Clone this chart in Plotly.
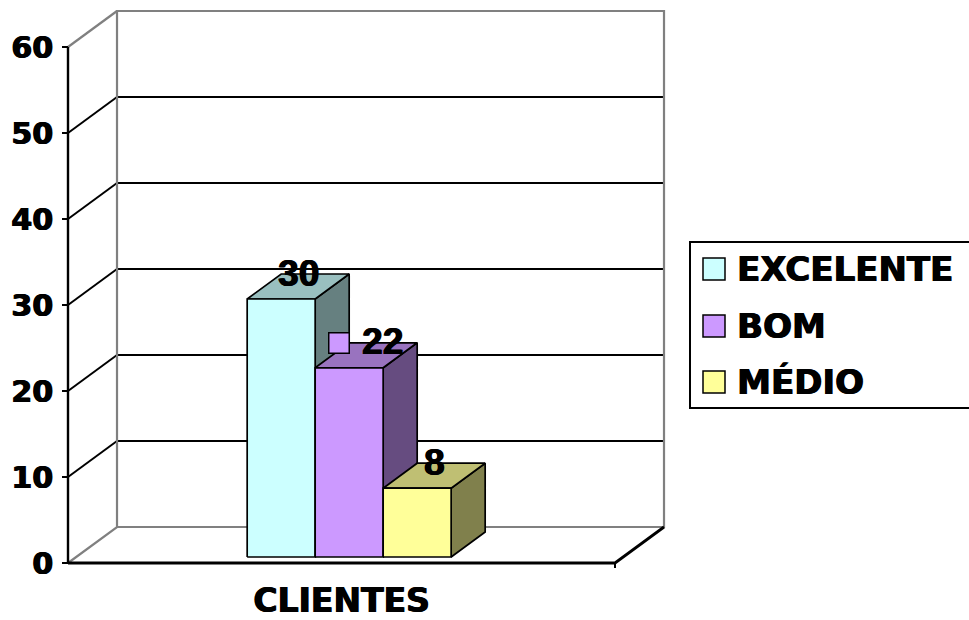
import plotly.graph_objects as go

# ---- data -------------------------------------------------------------
category = "CLIENTES"
series = ["EXCELENTE", "BOM", "MÉDIO"]
values = [30, 22, 8]
y_ticks = [0, 10, 20, 30, 40, 50, 60]

# ---- styling ----------------------------------------------------------
front_colors = ["#CCFFFF", "#CC99FF", "#FFFF99"]
TICK_FONT = "DejaVu Sans"
LABEL_FONT = "Liberation Sans"
HEAVY = "0.8px 0 0 black, -0.4px 0 0 black"   # slightly heavier strokes

# pseudo-3D geometry in data units (x: one category = 1.0, y: value units)
DX, DY = 0.0896, 4.186          # offset of the back wall
D0, D1 = 0.167, 0.861           # front / back depth of the bars
BAR_LEFT0, BAR_W = 0.3126, 0.1243

# plot-area placement in pixels
W, H = 969, 620
PL, PR, PT, PB = 60, 670, 5, 568
X0PX, XPX_PER = 68, 547.0       # x data 0 -> px, px per unit
Y0PX, YPX_PER = 563, 8.6        # y data 0 -> px, px per unit
x_range = [(PL - X0PX) / XPX_PER, (PR - X0PX) / XPX_PER]
y_range = [(Y0PX - PB) / YPX_PER, (Y0PX - PT) / YPX_PER]


def shade(hex_color, k):
    r, g, b = (int(hex_color[i:i + 2], 16) for i in (1, 3, 5))
    return "#%02X%02X%02X" % (round(r * k), round(g * k), round(b * k))


def proj(x, y, d):
    return x + d * DX, y + d * DY


def px_paper(px, py):
    return (px - PL) / (PR - PL), (PB - py) / (PB - PT)


fig = go.Figure()


def add_line(pts, color, width):
    fig.add_trace(go.Scatter(
        x=[p[0] for p in pts], y=[p[1] for p in pts], mode="lines",
        line=dict(color=color, width=width), hoverinfo="skip", showlegend=False))


def add_face(pts, fill):
    xs = [p[0] for p in pts] + [pts[0][0]]
    ys = [p[1] for p in pts] + [pts[0][1]]
    fig.add_trace(go.Scatter(
        x=xs, y=ys, mode="lines", fill="toself", fillcolor=fill,
        line=dict(color="black", width=1.7), hoverinfo="skip", showlegend=False))


GRAY = "#808080"
top_val = y_ticks[-1]

# back wall gridlines and left-wall diagonals
for v in y_ticks[1:-1]:
    add_line([proj(0, v, 1), proj(1, v, 1)], "black", 2)
    add_line([proj(0, v, 0), proj(0, v, 1)], "black", 2)

# wall outlines
add_line([proj(0, 0, 0), proj(0, 0, 1), proj(1, 0, 1), proj(1, top_val, 1),
          proj(0, top_val, 1), proj(0, 0, 1)], GRAY, 2.2)
add_line([proj(0, top_val, 0), proj(0, top_val, 1)], GRAY, 2.2)

# floor front edge, right diagonal and category boundary tick
add_line([proj(1, 0, 1), proj(1, 0, 0), proj(0, 0, 0)], "black", 2.8)
add_line([(1, 0), (1, -0.85)], "black", 2)

# front value axis line
add_line([(0, 0), (0, top_val)], "black", 2.4)

# bars: side, top and front faces
label_pos = []
for i, (name, v, col) in enumerate(zip(series, values, front_colors)):
    xl = BAR_LEFT0 + i * BAR_W
    xr = xl + BAR_W
    add_face([proj(xr, 0, D0), proj(xr, 0, D1), proj(xr, v, D1), proj(xr, v, D0)],
             shade(col, 0.5))
    add_face([proj(xl, v, D0), proj(xr, v, D0), proj(xr, v, D1), proj(xl, v, D1)],
             shade(col, 0.75))
    add_face([proj(xl, 0, D0), proj(xr, 0, D0), proj(xr, v, D0), proj(xl, v, D0)], col)
    label_pos.append(proj((xl + xr) / 2, v, (D0 + D1) / 2))

# value labels
for i, (v, (lx, ly)) in enumerate(zip(values, label_pos)):
    with_key = series[i] == "BOM"
    fig.add_annotation(
        x=lx, y=ly, text=f"<b>{v}</b>", showarrow=False,
        xanchor="center", yanchor="bottom", yshift=-9,
        xshift=16 if with_key else 0,
        font=dict(family=LABEL_FONT, size=37, color="black", shadow=HEAVY))
    if with_key:
        fig.add_annotation(
            x=lx, y=ly, text="", showarrow=False, width=19, height=19,
            xanchor="center", yanchor="middle", xshift=-27, yshift=12,
            bgcolor=front_colors[i], bordercolor="black", borderwidth=1.5,
            borderpad=0)

# legend
lx0, ly0 = px_paper(690, 242)
lx1, ly1 = px_paper(985, 408)
fig.add_shape(type="rect", xref="paper", yref="paper", x0=lx0, y0=ly0, x1=lx1, y1=ly1,
              line=dict(color="black", width=2), fillcolor="white", layer="above")
for name, col, cy in zip(series, front_colors, [269, 326, 382]):
    kx0, ky0 = px_paper(703, cy - 11)
    kx1, ky1 = px_paper(725, cy + 11)
    fig.add_shape(type="rect", xref="paper", yref="paper", x0=kx0, y0=ky0, x1=kx1, y1=ky1,
                  line=dict(color="black", width=1.5), fillcolor=col, layer="above")
    tx, ty = px_paper(735, cy)
    fig.add_annotation(xref="paper", yref="paper", x=tx, y=ty, text=f"<b>{name}</b>",
                       showarrow=False, xanchor="left", yanchor="middle",
                       font=dict(family=TICK_FONT, size=34, color="black", shadow=HEAVY))

fig.update_layout(
    width=W, height=H,
    margin=dict(l=PL, r=W - PR, t=PT, b=H - PB, autoexpand=False),
    plot_bgcolor="white", paper_bgcolor="white",
    showlegend=False,
    xaxis=dict(range=x_range, showgrid=False, zeroline=False, showline=False,
               automargin=False,
               tickvals=[0.5], ticktext=[f"<b>{category}</b>"], ticks="",
               tickfont=dict(family=TICK_FONT, size=33, color="black", shadow=HEAVY),
               ticklabelstandoff=10, fixedrange=True),
    yaxis=dict(range=y_range, showgrid=False, zeroline=False, showline=False,
               automargin=False,
               anchor="free", position=(X0PX - PL) / (PR - PL),
               tickvals=y_ticks, ticktext=[f"<b>{t}</b>" for t in y_ticks],
               ticks="outside", ticklen=6, tickwidth=2, tickcolor="black",
               ticklabelstandoff=3,
               tickfont=dict(family=TICK_FONT, size=30, color="black", shadow=HEAVY),
               fixedrange=True),
)

fig.write_html("out.html")
